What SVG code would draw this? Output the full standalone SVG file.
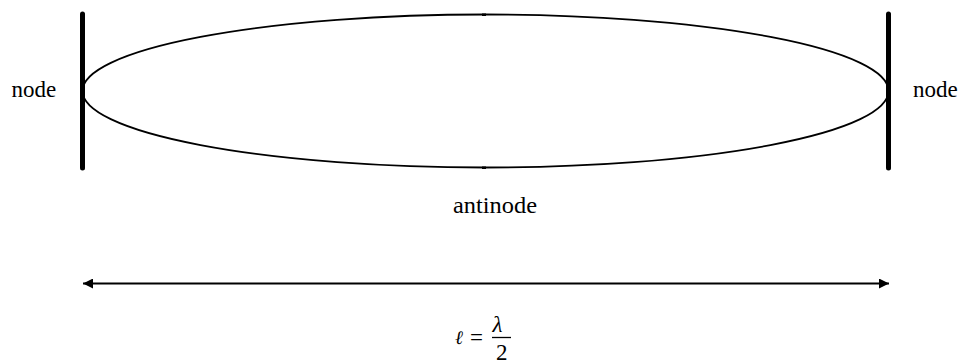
<svg xmlns="http://www.w3.org/2000/svg" width="963" height="364" viewBox="0 0 963 364">
<style>
text{font-family:'Liberation Serif','Times New Roman',serif;font-size:23px;fill:#000}
.bar{stroke:#000;stroke-width:5;stroke-linecap:round}
.thin{stroke:#000;stroke-width:1.8;fill:none}
</style>
<defs>
<marker id="ah" viewBox="0 0 10 10" refX="10" refY="5" markerWidth="10" markerHeight="10" markerUnits="userSpaceOnUse" orient="auto-start-reverse">
<path d="M0,0 L10,5 L0,10 Z" fill="#000"/>
</marker>
</defs>
<rect width="963" height="364" fill="#fff"/>
<g id="wave">
<ellipse cx="485.5" cy="91" rx="403" ry="76.5" class="thin"/>
<rect x="482" y="13.5" width="4" height="2.5" fill="#000"/>
<rect x="482" y="166.5" width="4" height="2.5" fill="#000"/>
</g>
<g id="node-left">
<line x1="82.5" y1="14" x2="82.5" y2="168" class="bar"/>
<text x="11.5" y="97">node</text>
</g>
<g id="node-right">
<line x1="888.5" y1="14" x2="888.5" y2="168" class="bar"/>
<text x="913" y="97">node</text>
</g>
<g id="antinode">
<text x="453" y="213" textLength="84" lengthAdjust="spacingAndGlyphs">antinode</text>
</g>
<g id="connectors">
<line x1="83" y1="283.5" x2="889" y2="283.5" class="thin" marker-start="url(#ah)" marker-end="url(#ah)"/>
</g>
<g id="formula">
<text x="455" y="344" font-style="italic" style="font-family:'DejaVu Serif',serif;font-size:19px">ℓ</text>
<text x="470" y="345">=</text>
<text x="492.5" y="332" font-style="italic">λ</text>
<line x1="492" y1="337.5" x2="511" y2="337.5" stroke="#000" stroke-width="1.3"/>
<text x="496" y="360">2</text>
</g>
</svg>
